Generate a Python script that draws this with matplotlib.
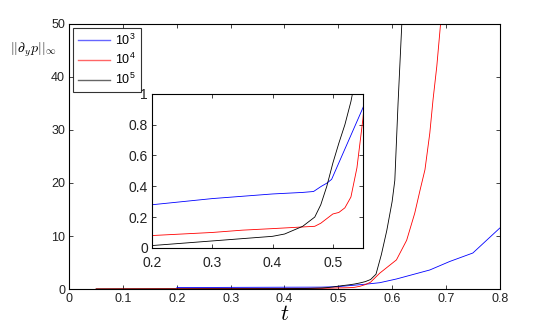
import numpy as np
import matplotlib
matplotlib.use("Agg")
import matplotlib.pyplot as plt

plt.rcParams["font.family"] = ["Liberation Sans", "DejaVu Sans"]
plt.rcParams["mathtext.fontset"] = "cm"

# ---- data ----
t_1e3 = [0.2, 0.25, 0.3, 0.35, 0.4, 0.45, 0.468, 0.481, 0.49, 0.498, 0.55,
         0.577, 0.608, 0.67, 0.707, 0.75, 0.8]
p_1e3 = [0.28, 0.30, 0.32, 0.335, 0.35, 0.36, 0.366, 0.40, 0.42, 0.445, 0.91,
         1.2, 1.9, 3.6, 5.2, 6.8, 11.5]

t_1e4 = [0.05, 0.1, 0.2, 0.3, 0.35, 0.4, 0.47, 0.48, 0.49, 0.5, 0.51, 0.52,
         0.53, 0.54, 0.55, 0.56, 0.577, 0.608, 0.627, 0.642, 0.652, 0.661,
         0.67, 0.676, 0.683, 0.69]
p_1e4 = [0.04, 0.06, 0.08, 0.10, 0.115, 0.125, 0.14, 0.16, 0.19, 0.22, 0.23,
         0.26, 0.33, 0.52, 0.84, 1.3, 3.0, 5.5, 9.2, 14.3, 18.7, 22.5,
         29.4, 35.7, 42.0, 50.0]

t_1e5 = [0.05, 0.1, 0.2, 0.3, 0.4, 0.42, 0.45, 0.47, 0.48, 0.49, 0.5, 0.51,
         0.52, 0.53, 0.54, 0.55, 0.56, 0.57, 0.58, 0.59, 0.6, 0.605, 0.611,
         0.618]
p_1e5 = [0.005, 0.008, 0.015, 0.045, 0.075, 0.09, 0.14, 0.2, 0.28, 0.4, 0.55,
         0.68, 0.8, 0.95, 1.15, 1.4, 1.8, 2.8, 6.5, 11.0, 16.5, 20.5, 35.0,
         50.0]

labels = [r"$\mathregular{10^3}$", r"$\mathregular{10^4}$", r"$\mathregular{10^5}$"]
colors = ["#0000ff", "#ff0000", "#000000"]
series = [(t_1e3, p_1e3), (t_1e4, p_1e4), (t_1e5, p_1e5)]

main_xticks = [0, 0.1, 0.2, 0.3, 0.4, 0.5, 0.6, 0.7, 0.8]
main_yticks = [0, 10, 20, 30, 40, 50]
inset_xticks = [0.2, 0.3, 0.4, 0.5]
inset_yticks = [0, 0.2, 0.4, 0.6, 0.8, 1]


def fmt(v):
    return "%g" % v


def matlab_axes(ax):
    ax.tick_params(direction="in", top=True, right=True, length=3,
                   width=0.6, labelsize=9, pad=3, colors="#222222")
    for sp in ax.spines.values():
        sp.set_linewidth(0.8)
        sp.set_color("#000000")


fig = plt.figure(figsize=(5.45, 3.27), dpi=100)
ax = fig.add_axes([0.127, 0.116, 0.79, 0.811])

for (t, p), c, lab in zip(series, colors, labels):
    ax.plot(t, p, color=c, lw=0.6, label=lab)

ax.set_xlim(0, 0.8)
ax.set_ylim(0, 50)
ax.set_xticks(main_xticks)
ax.set_xticklabels([fmt(v) for v in main_xticks])
ax.set_yticks(main_yticks)
matlab_axes(ax)
ax.set_xlabel("$t$", fontsize=16, labelpad=-1)
fig.text(10 / 545, 1 - 50 / 327, r"$||\partial_y p||_\infty$",
         fontsize=10, ha="left", va="center")

leg = ax.legend(loc="upper left", fontsize=9, frameon=True, fancybox=False,
                handlelength=2.6, borderaxespad=0.3, labelspacing=0.35,
                handletextpad=0.4, borderpad=0.4)
leg.get_frame().set_edgecolor("#000000")
leg.get_frame().set_linewidth(0.8)
for h, c in zip(leg.get_lines(), colors):
    h.set_color(c)
    h.set_alpha(0.6)
    h.set_linewidth(1.0)

ins = fig.add_axes([0.279, 0.242, 0.387, 0.471])
for (t, p), c in zip(series, colors):
    ins.plot(t, p, color=c, lw=0.6)
ins.set_xlim(0.2, 0.55)
ins.set_ylim(0, 1)
ins.set_xticks(inset_xticks)
ins.set_xticklabels([fmt(v) for v in inset_xticks])
ins.set_yticks(inset_yticks)
ins.set_yticklabels([fmt(v) for v in inset_yticks])
matlab_axes(ins)
ins.tick_params(axis="x", labelsize=10, pad=5.5)
ins.tick_params(axis="y", labelsize=10, pad=3)

fig.savefig("out.png", dpi=100)
